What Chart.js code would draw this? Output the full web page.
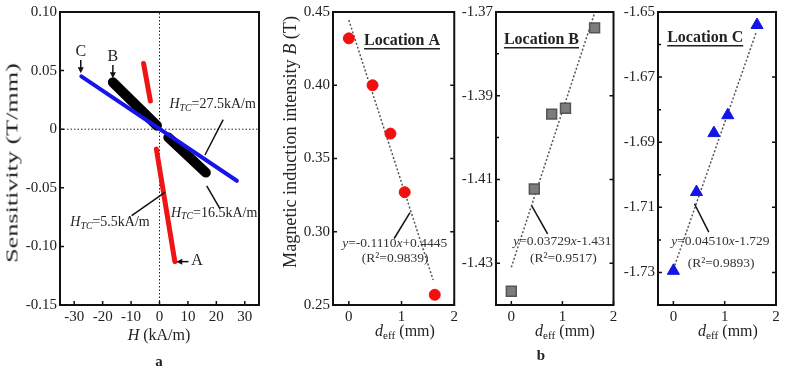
<!DOCTYPE html>
<html>
<head>
<meta charset="utf-8">
<title>Sensitivity and magnetic induction</title>
<script src="https://cdn.jsdelivr.net/npm/chart.js@4.4.1/dist/chart.umd.min.js"></script>
<style>
  body { margin: 0; background: #fff; }
  #fig { position: relative; width: 792px; height: 371px; overflow: hidden; font-family: "Liberation Serif", "Times New Roman", serif; color: #222; }
  #fig canvas { position: absolute; top: 0; }
  .t { position: absolute; white-space: nowrap; transform: translate(-50%, -50%); line-height: 1; }
  sub { font-size: 70%; vertical-align: -0.2em; }
</style>
</head>
<body>
<div id="fig">
  <canvas id="chartH" width="262" height="371" style="left:0"></canvas>
  <canvas id="chartLocA" width="166" height="371" style="left:295px"></canvas>
  <canvas id="chartLocB" width="163" height="371" style="left:459px"></canvas>
  <canvas id="chartLocC" width="163" height="371" style="left:621px"></canvas>

  <div class="t" id="ytitleH" style="left:12px;top:163px;font-size:17px">Sensitivity (T/mm)</div>
  <div class="t" id="ytitleB" style="left:290px;top:142px;font-size:18px">Magnetic induction intensity <i>B</i> (T)</div>
  <div class="t" style="left:159px;top:335px;font-size:16px"><i>H</i> (kA/m)</div>
  <div class="t" style="left:405px;top:332px;font-size:16px"><i>d</i><sub>eff</sub> (mm)</div>
  <div class="t" style="left:565px;top:332px;font-size:16px"><i>d</i><sub>eff</sub> (mm)</div>
  <div class="t" style="left:728px;top:332px;font-size:16px"><i>d</i><sub>eff</sub> (mm)</div>
  <div class="t" style="left:159px;top:361px;font-size:15px;font-weight:bold">a</div>
  <div class="t" style="left:541px;top:355px;font-size:15px;font-weight:bold">b</div>
</div>
<script>
// --- panel a: sensitivity vs H ---
const hTicks = [-30, -20, -10, 0, 10, 20, 30];
const hTickLabels = ['-30', '-20', '-10', '0', '10', '20', '30'];
const sensTicks = [-0.15, -0.10, -0.05, 0, 0.05, 0.10];
const sensTickLabels = ['-0.15', '-0.10', '-0.05', '0', '0.05', '0.10'];

// H_TC = 5.5 kA/m (red, two branches)
const hRed1 = [-5.6, -3.2];
const sRed1 = [0.056, 0.024];
const hRed2 = [-1.1, 5.4];
const sRed2 = [-0.017, -0.113];
// H_TC = 16.5 kA/m (black, two branches)
const hBlack1 = [-16.4, -0.9];
const sBlack1 = [0.040, 0.003];
const hBlack2 = [3.1, 16.3];
const sBlack2 = [-0.007, -0.037];
// H_TC = 27.5 kA/m (blue)
const hBlue = [-27.5, 27.2];
const sBlue = [0.045, -0.044];

// --- panel b: B vs d_eff ---
const dEff = [0, 0.45, 0.79, 1.06, 1.63];
const dTicks = [0, 1, 2];
const dTickLabels = ['0', '1', '2'];

const bLocA = [0.432, 0.400, 0.367, 0.327, 0.257];
const bLocB = [-1.4367, -1.4123, -1.3944, -1.3930, -1.3738];
const bLocC = [-1.7295, -1.7053, -1.6872, -1.6817, -1.6540];

// fitted lines, end points
const fitXA = [0, 1.60], fitYA = [0.4445, 0.267];
const fitXB = [0, 1.636], fitYB = [-1.431, -1.370];
const fitXC = [0, 1.62], fitYC = [-1.729, -1.656];

const yTicksA = [0.25, 0.30, 0.35, 0.40, 0.45];
const yTickLabelsA = ['0.25', '0.30', '0.35', '0.40', '0.45'];
const yTicksB = [-1.43, -1.41, -1.39, -1.37];
const yTickLabelsB = ['-1.43', '-1.41', '-1.39', '-1.37'];
const yMinorB = [-1.44, -1.42, -1.40, -1.38];
const yTicksC = [-1.73, -1.71, -1.69, -1.67, -1.65];
const yTickLabelsC = ['-1.73', '-1.71', '-1.69', '-1.67', '-1.65'];
const yMinorC = [-1.72, -1.70, -1.68, -1.66];

const pts = (xs, ys) => xs.map((x, i) => ({ x: x, y: ys[i] }));
const SERIF = '"Liberation Serif", "Times New Roman", serif';

function richText(ctx, item) {
  const size = item.size || 14;
  const weight = item.weight || 'normal';
  const fontFor = p => (p.i ? 'italic ' : '') + weight + ' ' + (p.sub ? size * 0.7 : size) + 'px ' + SERIF;
  let total = 0;
  item.parts.forEach(p => { ctx.font = fontFor(p); p.w = ctx.measureText(p.t).width; total += p.w; });
  let x = item.px - total / 2;
  const x0 = x;
  ctx.fillStyle = item.color || '#222';
  ctx.textBaseline = 'middle';
  ctx.textAlign = 'left';
  item.parts.forEach(p => {
    ctx.font = fontFor(p);
    ctx.fillText(p.t, x, item.py + (p.sub ? size * 0.25 : 0));
    x += p.w;
  });
  if (item.underline) {
    ctx.strokeStyle = item.color || '#222';
    ctx.lineWidth = 1.5;
    ctx.beginPath();
    ctx.moveTo(x0, item.py + size * 0.5);
    ctx.lineTo(x, item.py + size * 0.5);
    ctx.stroke();
  }
}

const framePlugin = {
  id: 'frame',
  afterDraw(chart, args, opts) {
    const { ctx, chartArea: a, scales } = chart;
    const sx = scales.x, sy = scales.y;
    ctx.save();
    ctx.strokeStyle = '#111';
    ctx.lineWidth = 1.5;
    ctx.beginPath();
    sx.ticks.forEach(t => { const p = sx.getPixelForValue(t.value); ctx.moveTo(p, a.bottom); ctx.lineTo(p, a.bottom - 4); });
    sy.ticks.forEach(t => {
      const p = sy.getPixelForValue(t.value);
      ctx.moveTo(a.left, p); ctx.lineTo(a.left + 4, p);
      if (opts.mirror) { ctx.moveTo(a.right, p); ctx.lineTo(a.right - 4, p); }
    });
    (opts.minorY || []).forEach(v => { const p = sy.getPixelForValue(v); ctx.moveTo(a.left, p); ctx.lineTo(a.left + 3, p); });
    ctx.stroke();

    ctx.lineWidth = 2;
    ctx.strokeRect(a.left, a.top, a.right - a.left, a.bottom - a.top);

    // leader lines
    ctx.strokeStyle = '#111';
    ctx.lineWidth = 1.5;
    (opts.lines || []).forEach(l => {
      ctx.beginPath();
      ctx.moveTo(sx.getPixelForValue(l[0]), sy.getPixelForValue(l[1]));
      ctx.lineTo(sx.getPixelForValue(l[2]), sy.getPixelForValue(l[3]));
      ctx.stroke();
    });
    // arrows
    (opts.arrows || []).forEach(l => {
      const x1 = sx.getPixelForValue(l[0]), y1 = sy.getPixelForValue(l[1]);
      const x2 = sx.getPixelForValue(l[2]), y2 = sy.getPixelForValue(l[3]);
      const ang = Math.atan2(y2 - y1, x2 - x1);
      ctx.beginPath(); ctx.moveTo(x1, y1); ctx.lineTo(x2 - 4 * Math.cos(ang), y2 - 4 * Math.sin(ang)); ctx.stroke();
      ctx.fillStyle = '#111';
      ctx.beginPath();
      ctx.moveTo(x2, y2);
      ctx.lineTo(x2 - 6 * Math.cos(ang) + 3 * Math.sin(ang), y2 - 6 * Math.sin(ang) - 3 * Math.cos(ang));
      ctx.lineTo(x2 - 6 * Math.cos(ang) - 3 * Math.sin(ang), y2 - 6 * Math.sin(ang) + 3 * Math.cos(ang));
      ctx.closePath(); ctx.fill();
    });
    (opts.texts || []).forEach(t => {
      richText(ctx, Object.assign({}, t, { px: sx.getPixelForValue(t.x), py: sy.getPixelForValue(t.y) }));
    });
    ctx.restore();
  }
};

function makeOptions(c) {
  const tickFont = { family: SERIF, size: 15 };
  return {
    responsive: false,
    animation: false,
    devicePixelRatio: 1,
    layout: { padding: { top: 10, right: c.padRight, left: 0, bottom: 0 } },
    plugins: { legend: { display: false }, tooltip: { enabled: false }, frame: c.frame },
    scales: {
      x: {
        type: 'linear', min: c.xMin, max: c.xMax,
        grid: { display: false, drawTicks: false }, border: { display: false },
        afterBuildTicks: s => { s.ticks = c.xTicks.map(v => ({ value: v })); },
        afterFit: s => { s.height = 66; },
        ticks: { color: '#222', font: tickFont, padding: 3, maxRotation: 0, autoSkip: false,
                 callback: (v, i) => c.xLabels[i] }
      },
      y: {
        type: 'linear', min: c.yMin, max: c.yMax,
        grid: { display: false, drawTicks: false }, border: { display: false },
        afterBuildTicks: s => { s.ticks = c.yTicks.map(v => ({ value: v })); },
        afterFit: s => { s.width = c.yWidth; },
        ticks: { color: '#222', font: tickFont, padding: 3, autoSkip: false,
                 callback: (v, i) => c.yLabels[i] }
      }
    }
  };
}

const lineDs = (data, color, width, order, dash) => ({
  data: data, showLine: true, pointRadius: 0, borderColor: color, backgroundColor: color,
  borderWidth: width, borderCapStyle: dash ? 'butt' : 'round', borderDash: dash || [], order: order
});

const htc = (val) => [{ t: 'H', i: true }, { t: 'TC', i: true, sub: true }, { t: '=' + val + 'kA/m' }];

// --- panel a ---
new Chart(document.getElementById('chartH'), {
  type: 'scatter',
  data: {
    datasets: [
      lineDs(pts([-35, 35], [0, 0]), '#222', 1, 5, [1.5, 2]),
      lineDs(pts([0, 0], [-0.15, 0.10]), '#222', 1, 5, [1.5, 2]),
      lineDs(pts(hRed1, sRed1), '#f01515', 5, 3),
      lineDs(pts(hRed2, sRed2), '#f01515', 5, 3),
      lineDs(pts(hBlack1, sBlack1), '#000', 10, 2),
      lineDs(pts(hBlack2, sBlack2), '#000', 10, 2),
      lineDs(pts(hBlue, sBlue), '#1515e8', 4, 1)
    ]
  },
  options: makeOptions({
    xMin: -35, xMax: 35, xTicks: hTicks, xLabels: hTickLabels,
    yMin: -0.15, yMax: 0.10, yTicks: sensTicks, yLabels: sensTickLabels,
    yWidth: 60, padRight: 3,
    frame: {
      arrows: [[-27.7, 0.059, -27.7, 0.0477], [-16.4, 0.0548, -16.4, 0.0435], [10.2, -0.113, 5.9, -0.113]],
      lines: [[22.4, 0.0082, 16.0, -0.022], [16.6, -0.0483, 21.3, -0.068], [-9.8, -0.0737, 1.9, -0.054]],
      texts: [
        { x: -27.7, y: 0.066, size: 16, parts: [{ t: 'C' }] },
        { x: -16.4, y: 0.0619, size: 16, parts: [{ t: 'B' }] },
        { x: 13.2, y: -0.1127, size: 16, parts: [{ t: 'A' }] },
        { x: 18.7, y: 0.0209, size: 14, parts: htc('27.5') },
        { x: 19.2, y: -0.0718, size: 14, parts: htc('16.5') },
        { x: -17.4, y: -0.0797, size: 14, parts: htc('5.5') }
      ]
    }
  }),
  plugins: [framePlugin]
});

// --- panel b ---
const eq = (a, b) => [{ t: 'y', i: true }, { t: '=' + a }, { t: 'x', i: true }, { t: b }];

function locChart(id, ys, marker, fitX, fitY, cfg) {
  return new Chart(document.getElementById(id), {
    type: 'scatter',
    data: {
      datasets: [
        Object.assign({ data: pts(dEff, ys), order: 0 }, marker),
        lineDs(pts(fitX, fitY), '#555', 1.5, 1, [2, 2])
      ]
    },
    options: makeOptions(cfg),
    plugins: [framePlugin]
  });
}

locChart('chartLocA', bLocA,
  { pointStyle: 'circle', pointRadius: 5.5, pointBackgroundColor: '#f01010', pointBorderColor: '#f01010' },
  fitXA, fitYA, {
    xMin: -0.3, xMax: 2, xTicks: dTicks, xLabels: dTickLabels,
    yMin: 0.25, yMax: 0.45, yTicks: yTicksA, yLabels: yTickLabelsA,
    yWidth: 38, padRight: 2,
    frame: {
      mirror: true,
      lines: [[0.86, 0.2954, 1.16, 0.313]],
      texts: [
        { x: 1.01, y: 0.4303, size: 16, weight: 'bold', underline: true, parts: [{ t: 'Location A' }] },
        { x: 0.87, y: 0.292, size: 13.5, color: '#333', parts: eq('-0.1110', '+0.4445') },
        { x: 0.88, y: 0.282, size: 13.5, color: '#333', parts: [{ t: '(R²=0.9839)' }] }
      ]
    }
  });

locChart('chartLocB', bLocB,
  { pointStyle: 'rect', pointRadius: 7, pointBackgroundColor: '#7c7c7c', pointBorderColor: '#555', pointBorderWidth: 1.5 },
  fitXB, fitYB, {
    xMin: -0.3, xMax: 2, xTicks: dTicks, xLabels: dTickLabels,
    yMin: -1.44, yMax: -1.37, yTicks: yTicksB, yLabels: yTickLabelsB,
    yWidth: 37, padRight: 3,
    frame: {
      mirror: true, minorY: yMinorB,
      lines: [[0.40, -1.4163, 0.71, -1.423]],
      texts: [
        { x: 0.59, y: -1.3766, size: 16, weight: 'bold', underline: true, parts: [{ t: 'Location B' }] },
        { x: 1.0, y: -1.4247, size: 13.5, color: '#333', parts: eq('0.03729', '-1.431') },
        { x: 1.02, y: -1.4288, size: 13.5, color: '#333', parts: [{ t: '(R²=0.9517)' }] }
      ]
    }
  });

locChart('chartLocC', bLocC,
  { pointStyle: 'triangle', pointRadius: 7, pointBackgroundColor: '#1414e6', pointBorderColor: '#1414e6' },
  fitXC, fitYC, {
    xMin: -0.3, xMax: 2, xTicks: dTicks, xLabels: dTickLabels,
    yMin: -1.74, yMax: -1.65, yTicks: yTicksC, yLabels: yTickLabelsC,
    yWidth: 37, padRight: 1,
    frame: {
      mirror: true, minorY: yMinorC,
      lines: [[0.41, -1.7089, 0.69, -1.7176]],
      texts: [
        { x: 0.62, y: -1.6579, size: 16, weight: 'bold', underline: true, parts: [{ t: 'Location C' }] },
        { x: 0.915, y: -1.7204, size: 13.5, color: '#333', parts: eq('0.04510', '-1.729') },
        { x: 0.93, y: -1.7272, size: 13.5, color: '#333', parts: [{ t: '(R²=0.9893)' }] }
      ]
    }
  });

// stretch the rotated axis titles to the length they have in the figure
function fitRotated(id, len) {
  const el = document.getElementById(id);
  const k = len / el.offsetWidth;
  el.style.transform = 'translate(-50%, -50%) rotate(-90deg) scaleX(' + k.toFixed(3) + ')';
}
fitRotated('ytitleH', 200);
fitRotated('ytitleB', 252);
</script>
</body>
</html>
